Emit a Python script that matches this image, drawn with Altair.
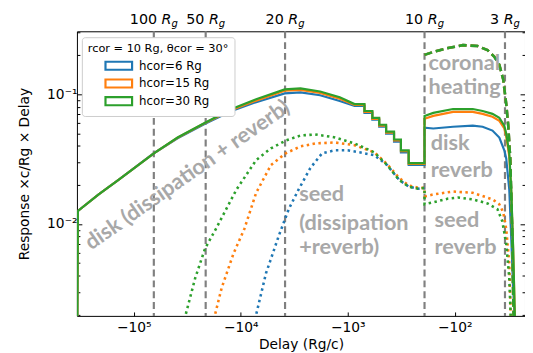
import altair as alt
import pandas as pd

# ---------------- data ----------------
H_LABELS = ["hcor=6 Rg", "hcor=15 Rg", "hcor=30 Rg"]
H_COLORS = ["#1f77b4", "#ff7f0e", "#2ca02c"]

# disk (solid) : dissipation + reverb, then disk reverb after the 10 Rg jump
DISK_DELAY = [-338000, -333000, -213000, -139000, -65000, -39000, -21600, -12200,
              -7190, -3890, -2770, -1815, -1190, -865, -699, -699, -590, -590,
              -509, -509, -439, -439, -370, -370, -319, -319, -270, -270, -192,
              -192, -159, -104, -68, -55, -44.5, -38.4, -34.5, -33.1, -31.0,
              -29.7, -28.5, -27.3]
DISK_H6 = [0.0012, 0.0126, 0.0169, 0.0219, 0.0351, 0.0458, 0.0591, 0.0743, 0.0869,
           0.1016, 0.1033, 0.0982, 0.0887, 0.0812, 0.0812, 0.0718, 0.0718, 0.0636,
           0.0636, 0.0562, 0.0562, 0.0498, 0.0498, 0.0432, 0.0432, 0.0357, 0.0357,
           0.0285, 0.0285, 0.0553, 0.0545, 0.0562, 0.0573, 0.0562, 0.0525, 0.0464,
           0.037, 0.032, 0.0184, 0.0077, 0.0032, 0.0015]
DISK_H15 = [0.0012, 0.0126, 0.0169, 0.0219, 0.0351, 0.0462, 0.0600, 0.0757, 0.0893,
            0.1064, 0.108, 0.1025, 0.0925, 0.0828, 0.0828, 0.0731, 0.0731, 0.0647,
            0.0647, 0.0573, 0.0573, 0.0506, 0.0506, 0.044, 0.044, 0.0364, 0.0364,
            0.029, 0.029, 0.0647, 0.0681, 0.0731, 0.0731, 0.0706, 0.067, 0.0624,
            0.0545, 0.0472, 0.0333, 0.0178, 0.00624, 0.0015]
DISK_H30 = [0.0012, 0.0126, 0.0169, 0.0219, 0.0351, 0.0464, 0.0603, 0.0769, 0.0916,
            0.109, 0.111, 0.105, 0.0949, 0.084, 0.084, 0.0743, 0.0743, 0.0658,
            0.0658, 0.0582, 0.0582, 0.0515, 0.0515, 0.0448, 0.0448, 0.037, 0.037,
            0.0295, 0.0295, 0.0681, 0.0718, 0.0769, 0.0769, 0.0743, 0.0706, 0.0658,
            0.0573, 0.0498, 0.0351, 0.0184, 0.00647, 0.0015]

# coronal heating (dashed)
CORONA_DELAY = [-192, -159, -115.5, -84, -61.2, -49.5, -42.7, -38.4, -35.3, -33.1,
                -31.7, -30.3, -29.2, -28.1]
CORONA_VALUE = [0.201, 0.212, 0.227, 0.239, 0.235, 0.219, 0.194, 0.169, 0.130, 0.084,
                0.0573, 0.0311, 0.00917, 0.0015]

# seed (dotted)
SEED_H6_DELAY = [-7820, -5815, -4420, -3570, -2890, -2240, -1740, -1320, -1003, -778,
                 -566, -430, -332, -269, -218, -192]
SEED_H6 = [0.0015, 0.00418, 0.0081, 0.013, 0.0184, 0.027, 0.0351, 0.037, 0.037,
           0.0357, 0.0339, 0.0285, 0.0219, 0.0194, 0.0187, 0.019]
SEED_H15_DELAY = [-19000, -15100, -11700, -9270, -7190, -5230, -3800, -2770, -2020,
                  -1320, -865, -566, -430, -332, -269, -218, -192, -192, -159, -104,
                  -68, -44.5, -38.4, -35.3, -33.1, -31.0, -29.7]
SEED_H15 = [0.0015, 0.00322, 0.00593, 0.00917, 0.0174, 0.0285, 0.0351, 0.0396, 0.0418,
            0.0425, 0.0405, 0.0357, 0.029, 0.0227, 0.0198, 0.019, 0.019, 0.0163,
            0.0169, 0.0178, 0.0174, 0.0155, 0.0142, 0.0123, 0.00917, 0.00498, 0.0015]
SEED_H30_DELAY = [-35900, -26700, -21600, -17100, -11000, -7190, -5230, -3800, -2770,
                  -2020, -1320, -865, -566, -430, -332, -269, -218, -192, -192, -159,
                  -115.5, -93.5, -68, -49.5, -40, -36, -33.1, -31.0, -29.7]
SEED_H30 = [0.0015, 0.00383, 0.00647, 0.00917, 0.0184, 0.0311, 0.0383, 0.044, 0.0481,
            0.049, 0.0465, 0.0418, 0.0357, 0.0285, 0.0219, 0.0194, 0.0187, 0.019,
            0.0142, 0.0147, 0.0157, 0.016, 0.0155, 0.0144, 0.013, 0.0105, 0.00705,
            0.00383, 0.0015]

# radius markers
RADII = ["100", "50", "20", "10", "3"]
RADII_DELAY = [-65000, -21300, -3860, -192, -34]

# annotations
ANNOT_TEXT = ["coronal", "heating", "disk", "reverb", "seed", "reverb",
              "seed", "(dissipation", "+reverb)"]
ANNOT_DELAY = [-176, -176, -168, -168, -155, -155, -2850, -2850, -2850]
ANNOT_VALUE = [0.1746, 0.113, 0.0418, 0.0261, 0.0107, 0.0067, 0.0169, 0.0102, 0.0067]
ROT_TEXT = ["disk (dissipation + reverb)"]
ROT_DELAY = [-31660]
ROT_VALUE = [0.0239]

X_TICKS = [1e2, 1e3, 1e4, 1e5]
Y_TICKS = [0.002, 0.003, 0.004, 0.005, 0.006, 0.007, 0.008, 0.009,
           0.01, 0.02, 0.03, 0.04, 0.05, 0.06, 0.07, 0.08, 0.09, 0.1, 0.2, 0.3]

# ---------------- chart ----------------
XSCALE = alt.Scale(type="log", domain=[22.1, 340000], reverse=True)
YSCALE = alt.Scale(type="log", domain=[0.00196, 0.3055])
CSCALE = alt.Scale(domain=H_LABELS, range=H_COLORS)
MAJOR = "datum.value == 0.1 || datum.value == 0.01"
GRAY = "#a8a8a8"

x_axis = alt.Axis(values=X_TICKS,
                  labelExpr="datum.value >= 5e4 ? '−10⁵' : datum.value >= 5e3 ? '−10⁴' : datum.value >= 500 ? '−10³' : '−10²'",
                  tickSize=alt.ExprRef("-4"), labelPadding=9, domain=False, grid=False,
                  title="Delay (Rg/c)", titlePadding=3)
y_left = alt.Axis(values=Y_TICKS,
                  labelExpr="datum.value == 0.1 ? '10⁻¹' : (datum.value == 0.01 ? '10⁻²' : '')",
                  tickSize={"condition": {"test": MAJOR, "value": -5}, "value": -3},
                  labelPadding=5, domain=False, grid=False, orient="left",
                  title="Response ×c/Rg × Delay", titlePadding=15)
y_right = alt.Axis(values=Y_TICKS, labels=False,
                   tickSize={"condition": {"test": MAJOR, "value": -5}, "value": -3},
                   domain=False, grid=False, orient="right", title=None)

legend = alt.Legend(title="rcor = 10 Rg, θcor = 30°", orient="none", legendX=5, legendY=6,
                    symbolType="M-2.25,-0.68H2.25V0.68H-2.25Z", symbolSize=144,
                    symbolStrokeWidth=2.2, symbolFillColor="white", symbolOffset=24,
                    labelOffset=13,
                    fillColor="white", strokeColor="#cccccc", cornerRadius=3, padding=6,
                    titleFontSize=11.5, titleFontWeight="normal", titlePadding=4,
                    labelFontSize=12, rowPadding=1, labelLimit=300)


def frame(delays, values, h):
    return pd.DataFrame({"delay": delays, "value": values, "h": h,
                         "i": list(range(len(delays)))})


def line_layer(df, dash=None, width=2.2, xaxis=None, yaxis=None, leg=None):
    kw = dict(strokeWidth=width, clip=True)
    if dash:
        kw["strokeDash"] = dash
    return alt.Chart(df).transform_calculate(lag="-datum.delay").mark_line(**kw).encode(
        x=alt.X("lag:Q", scale=XSCALE, axis=xaxis),
        y=alt.Y("value:Q", scale=YSCALE, axis=yaxis),
        color=alt.Color("h:N", scale=CSCALE, legend=leg),
        order=alt.Order("i:Q"),
    )


radii_df = pd.DataFrame({"delay": RADII_DELAY, "r": RADII})
rules = alt.Chart(radii_df).transform_calculate(lag="-datum.delay").mark_rule(
    color="#808080", strokeDash=[7, 4], strokeWidth=2.2).encode(
    x=alt.X("lag:Q", scale=XSCALE, axis=None))

layers = [rules]
disk_vals = [DISK_H6, DISK_H15, DISK_H30]
seed_d = [SEED_H6_DELAY, SEED_H15_DELAY, SEED_H30_DELAY]
seed_v = [SEED_H6, SEED_H15, SEED_H30]
for k, h in enumerate(H_LABELS):
    layers.append(line_layer(frame(DISK_DELAY, disk_vals[k], h), width=2.2,
                             xaxis=x_axis if k == 0 else None,
                             yaxis=y_left if k == 0 else None,
                             leg=legend if k == 0 else None))
    layers.append(line_layer(frame(seed_d[k], seed_v[k], h), dash=[2.5, 3.5], width=2.6))
    layers.append(line_layer(frame(CORONA_DELAY, CORONA_VALUE, h), dash=[8, 4], width=2.6,
                             yaxis=y_right if k == 2 else None))

TXT = dict(font="Lato", fontWeight="bold", fontSize=22, color=GRAY)
annot_df = pd.DataFrame({"delay": ANNOT_DELAY, "value": ANNOT_VALUE, "t": ANNOT_TEXT})
layers.append(alt.Chart(annot_df).transform_calculate(lag="-datum.delay").mark_text(
    align="left", baseline="middle", **TXT).encode(
    x=alt.X("lag:Q", scale=XSCALE, axis=None),
    y=alt.Y("value:Q", scale=YSCALE, axis=None), text="t:N"))

rot_df = pd.DataFrame({"delay": ROT_DELAY, "value": ROT_VALUE, "t": ROT_TEXT})
layers.append(alt.Chart(rot_df).transform_calculate(lag="-datum.delay").mark_text(
    align="center", baseline="middle", angle=325, **TXT).encode(
    x=alt.X("lag:Q", scale=XSCALE, axis=None),
    y=alt.Y("value:Q", scale=YSCALE, axis=None), text="t:N"))

# top labels "N Rg" centred on each dashed line
FS = 14.5
DIGIT, SPACE, RW, GW = 0.636 * FS, 0.318 * FS, 0.695 * FS, 0.635 * FS * 0.7
for r, d in zip(RADII, RADII_DELAY):
    one = pd.DataFrame({"delay": [d], "num": [r], "R": ["R"], "g": ["g"]})
    numw = DIGIT * len(r)
    num_right = (numw - (SPACE + RW + GW)) / 2
    base = alt.Chart(one).transform_calculate(lag="-datum.delay")
    xenc = alt.X("lag:Q", scale=XSCALE, axis=None)
    layers.append(base.mark_text(align="right", baseline="alphabetic", fontSize=FS,
                                 font="DejaVu Sans", dx=num_right).encode(
        x=xenc, y=alt.value(-7), text="num:N"))
    layers.append(base.mark_text(align="left", baseline="alphabetic", fontSize=FS,
                                 font="DejaVu Sans", fontStyle="italic",
                                 dx=num_right + SPACE).encode(
        x=xenc, y=alt.value(-7), text="R:N"))
    layers.append(base.mark_text(align="left", baseline="alphabetic", fontSize=FS * 0.7,
                                 font="DejaVu Sans", fontStyle="italic",
                                 dx=num_right + SPACE + RW).encode(
        x=xenc, y=alt.value(-4), text="g:N"))

chart = alt.layer(*layers).resolve_axis(x="independent", y="independent").properties(
    width=455, height=289,
    autosize=alt.AutoSizeParams(type="none"),
    padding={"left": 70, "top": 21, "right": 0, "bottom": 34},
).configure(font="DejaVu Sans").configure_view(
    stroke="black", strokeWidth=1).configure_axis(
    labelFontSize=14, titleFontSize=14, titleFontWeight="normal",
    labelColor="black", titleColor="black", tickColor="black", tickWidth=1,
    labelFont="DejaVu Sans", titleFont="DejaVu Sans")

chart.save("out.html", embed_options={"renderer": "svg", "actions": False})
